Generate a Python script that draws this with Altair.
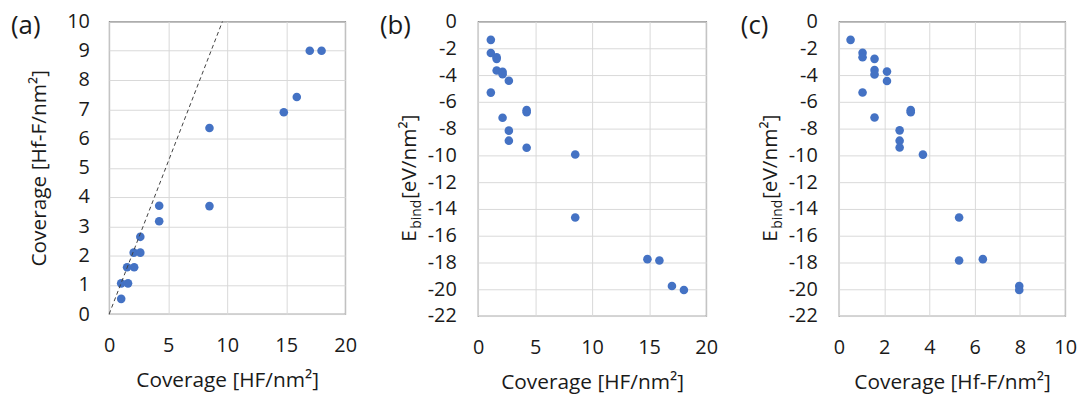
import altair as alt
import pandas as pd

# ---- data ----
a_hf = [17.0, 18.0, 15.9, 14.8, 8.5, 8.5, 4.24, 4.24, 2.64, 2.08, 2.64, 1.52, 2.12, 1.02, 1.6, 1.02]
a_hff = [9.0, 9.0, 7.42, 6.9, 6.36, 3.69, 3.7, 3.17, 2.64, 2.1, 2.1, 1.6, 1.6, 1.05, 1.05, 0.52]
line_x = [0.0, 9.6]
line_y = [0.0, 10.0]

b_hf = [1.12, 1.12, 1.63, 1.63, 1.63, 2.15, 2.15, 2.7, 1.12, 4.26, 4.26, 2.15, 2.7, 2.7, 4.26, 8.52, 8.52, 14.85, 15.9, 17.0, 18.05]
b_e = [-1.37, -2.35, -2.67, -2.79, -3.66, -3.76, -3.93, -4.43, -5.31, -6.62, -6.77, -7.19, -8.15, -8.9, -9.43, -9.93, -14.64, -17.75, -17.85, -19.75, -20.05]

c_hff = [0.51, 1.04, 1.04, 1.57, 1.57, 2.12, 1.57, 2.12, 1.04, 3.17, 3.17, 1.57, 2.68, 2.68, 2.68, 3.71, 5.31, 6.36, 5.31, 7.97, 7.97]
c_e = [-1.37, -2.33, -2.67, -2.79, -3.62, -3.74, -3.95, -4.44, -5.3, -6.62, -6.77, -7.17, -8.13, -8.9, -9.41, -9.94, -14.64, -17.75, -17.85, -19.75, -20.05]

BLUE = "#4472C4"
FONT = "Open Sans"
PT = 75

def label_layer(txt):
    return alt.Chart(pd.DataFrame({"t": [txt]})).mark_text(
        align="left", baseline="middle", fontSize=26, font=FONT, color="#1a1a1a"
    ).encode(x=alt.value(-99), y=alt.value(5), text="t:N")

def ebind_title():
    e = alt.Chart(pd.DataFrame({"t": ["E"]})).mark_text(angle=270, align="left", baseline="alphabetic",
                                   fontSize=21, font=FONT, color="#1a1a1a").encode(
        x=alt.value(-63), y=alt.value(222), text="t:N")
    b = alt.Chart(pd.DataFrame({"t": ["bind"]})).mark_text(angle=270, align="left", baseline="alphabetic",
                                   fontSize=14, font=FONT, color="#1a1a1a").encode(
        x=alt.value(-58), y=alt.value(209), text="t:N")
    r = alt.Chart(pd.DataFrame({"t": ["[eV/nm²]"]})).mark_text(angle=270, align="left", baseline="alphabetic",
                                   fontSize=21, font=FONT, color="#1a1a1a").encode(
        x=alt.value(-63), y=alt.value(179), text="t:N")
    return e + b + r

lab = "'' + datum.value"

# ---- panel (a) ----
dfa = pd.DataFrame({"x": a_hf, "y": a_hff})
dfl = pd.DataFrame({"x": line_x, "y": line_y})
xa = alt.X("x:Q", scale=alt.Scale(domain=[0, 20], nice=False),
           axis=alt.Axis(values=[0, 5, 10, 15, 20], title="Coverage [HF/nm²]", labelExpr=lab))
ya = alt.Y("y:Q", scale=alt.Scale(domain=[0, 10], nice=False),
           axis=alt.Axis(values=list(range(0, 11)), title="Coverage [Hf-F/nm²]", labelExpr=lab,
                         labelPadding=20, titlePadding=17))
pa = alt.Chart(dfa).mark_circle(size=PT, color=BLUE, opacity=1).encode(x=xa, y=ya)
la = alt.Chart(dfl).mark_line(color="#404040", strokeWidth=1, strokeDash=[4, 3]).encode(x=xa, y=ya)
chart_a = alt.layer(pa, la, label_layer("(a)")).properties(width=238, height=295)

# ---- panel (b) ----
dfb = pd.DataFrame({"x": b_hf, "y": b_e})
xb = alt.X("x:Q", scale=alt.Scale(domain=[0, 20], nice=False),
           axis=alt.Axis(values=[0, 5, 10, 15, 20], title="Coverage [HF/nm²]", labelExpr=lab))
yb = alt.Y("y:Q", scale=alt.Scale(domain=[-22, 0], nice=False),
           axis=alt.Axis(values=list(range(-22, 1, 2)), title=None, labelExpr=lab, labelPadding=22))
pb = alt.Chart(dfb).mark_circle(size=PT, color=BLUE, opacity=1).encode(x=xb, y=yb)
chart_b = alt.layer(pb, label_layer("(b)"), ebind_title()).properties(width=230, height=297)

# ---- panel (c) ----
dfc = pd.DataFrame({"x": c_hff, "y": c_e})
xc = alt.X("x:Q", scale=alt.Scale(domain=[0, 10], nice=False),
           axis=alt.Axis(values=[0, 2, 4, 6, 8, 10], title="Coverage [Hf-F/nm²]", labelExpr=lab))
yc = alt.Y("y:Q", scale=alt.Scale(domain=[-22, 0], nice=False),
           axis=alt.Axis(values=list(range(-22, 1, 2)), title=None, labelExpr=lab, labelPadding=22))
pc = alt.Chart(dfc).mark_circle(size=PT, color=BLUE, opacity=1).encode(x=xc, y=yc)
chart_c = alt.layer(pc, label_layer("(c)"), ebind_title()).properties(width=228, height=297)

chart = alt.hconcat(chart_a, chart_b, chart_c, spacing=134, bounds="flush").properties(
    padding={"left": 2, "top": 1, "right": 5, "bottom": 2}
).configure(font=FONT).configure_view(
    stroke="#595959", strokeWidth=1.2
).configure_axis(
    grid=True, gridColor="#d9d9d9", gridWidth=1, domain=False, ticks=False,
    labelFont=FONT, labelFontSize=20, labelColor="#1a1a1a", labelOverlap=False,
    titleFont=FONT, titleFontSize=21, titleFontWeight="normal", titleColor="#1a1a1a",
).configure_axisX(labelPadding=22, titlePadding=14, labelFlush=False).configure_axisY(labelFlush=False)

chart.save("out.html", embed_options={"renderer": "svg", "actions": False})
